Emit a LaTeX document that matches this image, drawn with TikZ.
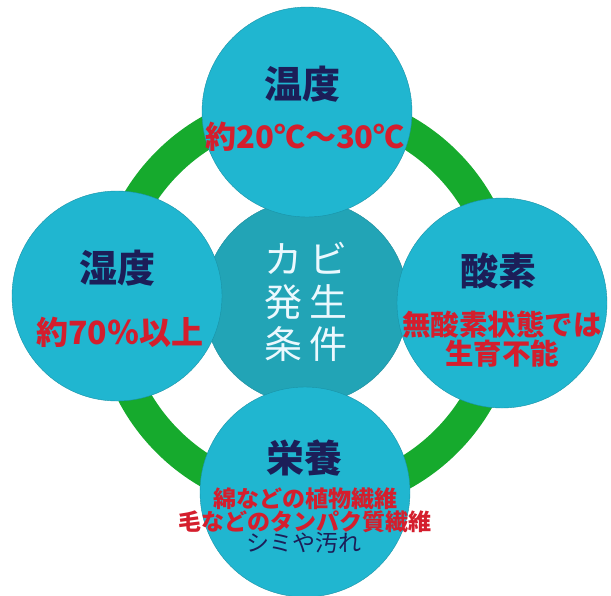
\documentclass[tikz,border=0pt]{standalone}
\usepackage{fontspec}
\setmainfont{Noto Sans CJK JP}
\definecolor{ringgreen}{RGB}{22,170,45}
\definecolor{circcyan}{RGB}{32,182,208}
\definecolor{centreteal}{RGB}{34,164,182}
\definecolor{titlenavy}{RGB}{28,30,88}
\definecolor{notered}{RGB}{212,30,45}
\tikzset{every picture/.style={line width=0.75pt}}
\tikzset{
  factor/.style={circle, fill=circcyan, draw=circcyan!80!black, line width=0.4pt, minimum size=210pt, inner sep=0pt},
  ttl/.style={inner sep=0pt, text=titlenavy, font=\fontsize{38}{40}\bfseries\selectfont},
  note/.style={inner sep=0pt, text=notered, font=\fontsize{#1}{#1}\bfseries\selectfont},
  note/.default=28
}

\begin{document}
\begin{tikzpicture}[x=1pt,y=1pt,yscale=-1,xscale=1]
\useasboundingbox (0,0) rectangle (611,595);
\clip (0,0) rectangle (611,595);

%Shape: Ring [id:ring]
\draw [color=ringgreen, line width=32pt] (307,302) circle [radius=197];
%Shape: Circle [id:centre]
\node (cond) [circle, fill=centreteal, draw=centreteal!85!black, line width=0.4pt, minimum size=204pt] at (306,302) {};
%Shape: Circle [id:top]
\node (temp) [factor] at (307,112) {};
%Shape: Circle [id:left]
\node (humid) [factor] at (117,296) {};
%Shape: Circle [id:right]
\node (oxy) [factor] at (502,303) {};
%Shape: Circle [id:bottom]
\node (food) [factor] at (305,492) {};

% Text Node
\node (condtxt) [align=center, inner sep=0pt, text=white!92!cyan, font=\fontsize{38}{42.5}\selectfont] at (cond) {カ\hspace{7pt}ビ\\発\hspace{7pt}生\\条\hspace{7pt}件};
% Text Node
\node (tempttl) [ttl] at (302,84) {温度};
% Text Node
\node (tempnote) [note=31] at (305,137) {約20℃～30℃};
% Text Node
\node (humidttl) [ttl] at (117,268) {湿度};
% Text Node
\node (humidnote) [note=32] at (120,332) {約70％以上};
% Text Node
\node (oxyttl) [ttl] at (498,271) {酸素};
% Text Node
\node (oxynote) [align=center, note=28.5, font=\fontsize{28.5}{29.5}\bfseries\selectfont] at (502,339) {無酸素状態では\\生育不能};
% Text Node
\node (foodttl) [ttl] at (304,458) {栄養};
% Text Node
\node (foodnote) [align=center, note=23, font=\fontsize{23}{23}\bfseries\selectfont] at (305,510) {綿などの植物繊維\\毛などのタンパク質繊維};
% Text Node
\node (foodstain) [inner sep=0pt, text=titlenavy, font=\fontsize{23}{23}\selectfont] at (304,543) {シミや汚れ};

\end{tikzpicture}
\end{document}
